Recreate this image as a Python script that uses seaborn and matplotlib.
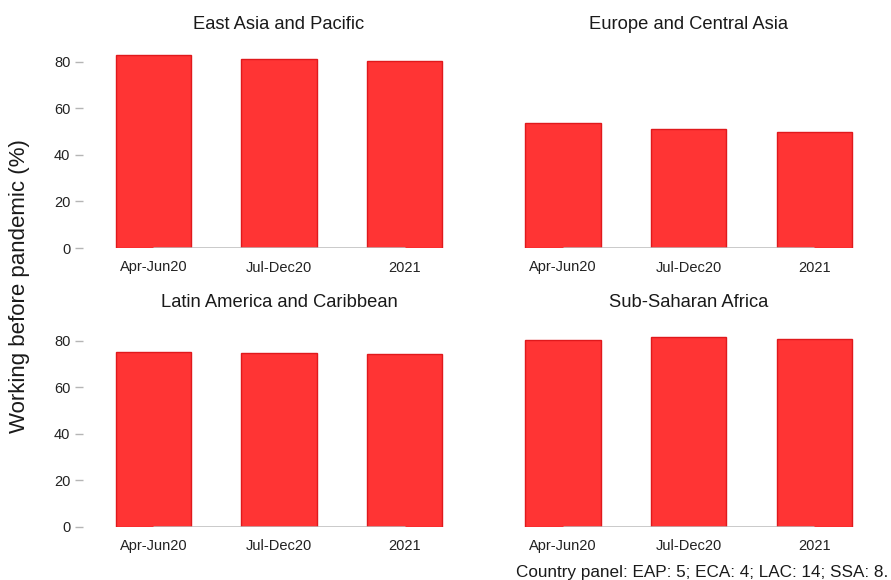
import matplotlib
matplotlib.use("Agg")
import matplotlib.pyplot as plt
import seaborn as sns
import pandas as pd

regions = ["East Asia and Pacific", "Europe and Central Asia",
           "Latin America and Caribbean", "Sub-Saharan Africa"]
periods = ["Apr-Jun20", "Jul-Dec20", "2021"]
eap = [83.0, 81.3, 80.3]
eca = [53.9, 51.3, 50.0]
lac = [75.3, 74.9, 74.3]
ssa = [80.3, 81.4, 80.6]
yticks = [0, 20, 40, 60, 80]
ylabel = "Working before pandemic (%)"
note = "Country panel: EAP: 5; ECA: 4; LAC: 14; SSA: 8."

values = {regions[0]: eap, regions[1]: eca, regions[2]: lac, regions[3]: ssa}

sns.set_theme(style="white")
plt.rcParams["font.family"] = ["Liberation Sans", "DejaVu Sans"]

fig = plt.figure(figsize=(8.91, 5.80), dpi=100)

W, H = 891.0, 580.0
left_x = [83.0, 492.6]
ax_w = 392.0
bottoms_px = [248.0, 526.7]
ax_h_px = 200.0

face = "#ff3434"
edge = "#e0191c"

for i, reg in enumerate(regions):
    r, c = divmod(i, 2)
    l = left_x[c] / W
    b = 1 - bottoms_px[r] / H
    ax = fig.add_axes([l, b, ax_w / W, ax_h_px / H])
    df = pd.DataFrame({"period": periods, "value": values[reg]})
    sns.barplot(data=df, x="period", y="value", ax=ax, color=face,
                saturation=1, width=0.6, edgecolor=edge, linewidth=1.0)
    ax.set_xlim(-0.56, 2.56)
    ax.set_ylim(0, 86)
    ax.hlines(0, 0, len(periods) - 1, color="#bbbbbb", lw=1.8, zorder=5)
    for s in ax.spines.values():
        s.set_visible(False)
    ax.set_xlabel("")
    ax.set_ylabel("")
    ax.set_title(reg, fontsize=13.2, color="#1a1a1a", pad=14)
    ax.tick_params(axis="x", length=0, labelsize=10.5, labelcolor="#222222", pad=9)
    if c == 0:
        ax.set_yticks(yticks)
        ax.tick_params(axis="y", length=6, width=1, color="#b5b5b5",
                       labelsize=10.5, labelcolor="#222222", pad=3, left=True)
    else:
        ax.set_yticks([])
    ax.grid(False)

fig.text(20 / W, 1 - 286 / H, ylabel, rotation=90, va="center", ha="center",
         fontsize=16, color="#1a1a1a")
fig.text(888 / W, 1 - 572 / H, note, ha="right", va="center",
         fontsize=12.3, color="#1a1a1a")

fig.savefig("out.png", dpi=100)
